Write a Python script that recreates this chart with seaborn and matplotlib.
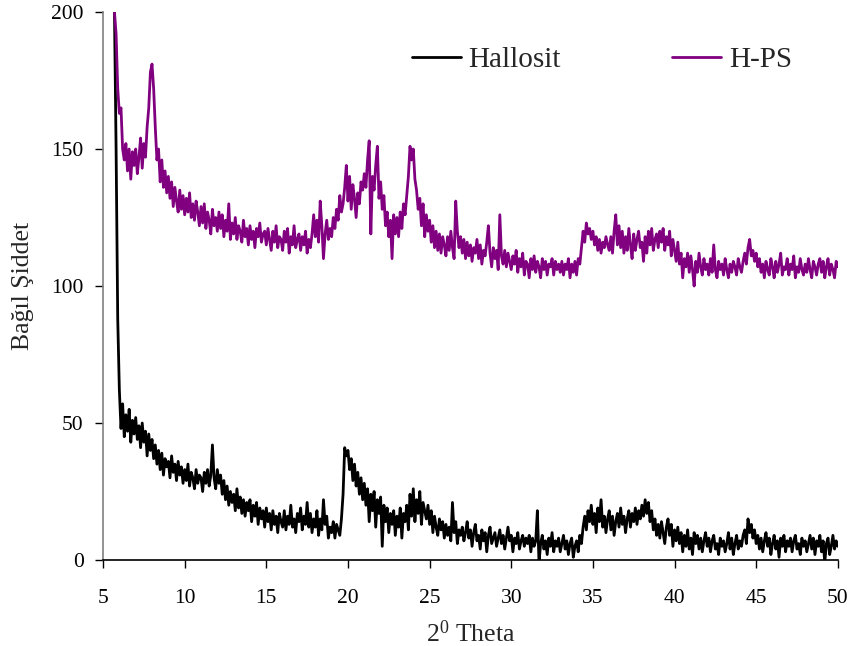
import numpy as np
import pandas as pd
import matplotlib
matplotlib.use("Agg")
import matplotlib.pyplot as plt
import seaborn as sns

# 2-theta grid, 0.1 degree steps from 5.7 to 50.0
theta = np.round(np.arange(57, 501) / 10.0, 1)

# Halloysite pattern (relative intensity)
hallosit = [
    200, 150, 88,
    62, 48, 57, 45, 53, 47, 55, 43, 51, 46,
    52, 44, 49, 41, 50, 43, 47, 38, 46, 40,
    44, 37, 42, 35, 40, 33, 39, 31, 37, 34,
    36, 30, 38, 32, 35, 29, 36, 31, 34, 28,
    33, 29, 35, 27, 32, 30, 26, 33, 28, 31,
    30, 25, 32, 28, 33, 27, 31, 42, 30, 26,
    33, 28, 31, 24, 29, 22, 27, 20, 25, 21,
    24, 18, 26, 19, 23, 17, 22, 16, 21, 18,
    22, 14, 20, 16, 21, 13, 19, 15, 18, 12,
    19, 14, 17, 11, 18, 13, 16, 10, 17, 14,
    12, 18, 11, 16, 13, 20, 12, 15, 10, 17,
    14, 19, 11, 16, 13, 21, 12, 17, 10, 15,
    12, 18, 9, 15, 11, 22, 13, 16, 8, 12,
    10, 14, 8, 13, 11, 9, 15, 24, 41, 38,
    40, 33, 37, 29, 35, 27, 32, 24, 30, 22,
    28, 20, 26, 14, 24, 18, 25, 12, 22, 17,
    23, 5, 20, 14, 19, 10, 17, 13, 18, 9,
    16, 12, 19, 8, 17, 14, 20, 11, 24, 16,
    26, 14, 22, 17, 25, 13, 21, 18, 15, 20,
    13, 18, 10, 16, 12, 9, 15, 11, 14, 8,
    13, 9, 12, 7, 21, 10, 14, 6, 11, 9,
    12, 7, 10, 14, 8, 11, 5, 10, 13, 7,
    9, 4, 11, 7, 10, 3, 9, 12, 6, 8,
    10, 5, 8, 11, 6, 9, 4, 8, 12, 7,
    9, 3, 8, 6, 10, 4, 7, 9, 5, 8,
    6, 9, 3, 8, 5, 7, 18, -1, 6, 9,
    4, 7, 2, 8, 5, 10, 3, 7, 5, 8,
    3, 6, 9, 4, 7, 2, 6, 8, 1, 5,
    7, 3, 9, 6, 12, 16, 11, 18, 14, 20,
    13, 17, 10, 19, 14, 22, 12, 16, 10, 15,
    18, 11, 16, 9, 14, 17, 12, 19, 13, 16,
    10, 15, 18, 12, 17, 14, 19, 13, 18, 15,
    20, 16, 22, 17, 21, 14, 18, 11, 15, 9,
    13, 8, 14, 10, 6, 12, 15, 9, 13, 5,
    11, 7, 12, 6, 10, 3, 9, 5, 11, 4,
    8, 2, 10, 6, 9, 4, 8, 3, 7, 10,
    5, 8, 3, 7, 9, 4, 6, 2, 8, 5,
    7, 3, 6, 10, 4, 8, 2, 6, 9, 4,
    7, 5, 9, 11, 6, 15, 10, 13, 8, 11,
    6, 9, 4, 8, 3, 7, 10, 5, 8, 2,
    6, 9, 4, 7, 1, 8, 5, 9, 3, 7,
    5, 8, 3, 7, 9, 4, 6, 2, 8, 5,
    7, 3, 6, 9, 4, 8, 2, 7, 5, 9,
    3, 7, -1, 6, 8, 2, 5, 9, 4, 7,
    5,
]

# Halloysite-polystyrene pattern (relative intensity)
h_ps = [
    200, 192, 172,
    163, 165, 150, 146, 152, 142, 150, 139, 149, 144,
    150, 141, 147, 154, 143, 152, 147, 158, 165, 178,
    181, 172, 158, 146, 150, 138, 146, 136, 142, 134,
    140, 132, 138, 129, 136, 131, 127, 135, 128, 133,
    126, 132, 127, 134, 125, 130, 124, 131, 127, 122,
    129, 123, 130, 121, 127, 124, 119, 128, 122, 125,
    120, 127, 121, 126, 118, 124, 120, 130, 117, 123,
    119, 125, 117, 122, 120, 116, 124, 118, 121, 115,
    122, 117, 120, 114, 121, 118, 123, 116, 119, 120,
    115, 121, 117, 113, 120, 116, 122, 114, 118, 117,
    113, 120, 116, 121, 112, 118, 115, 122, 114, 117,
    119, 113, 118, 115, 120, 112, 117, 114, 119, 126,
    118, 124, 116, 131, 122, 110, 119, 124, 117, 121,
    118, 125, 121, 128, 124, 133, 127, 130, 136, 144,
    131, 140, 128, 137, 132, 125, 134, 130, 138, 135,
    141, 136, 146, 153, 119, 140, 135, 144, 151, 132,
    138, 128, 133, 122, 127, 118, 124, 110, 126, 119,
    125, 118, 127, 121, 130, 126, 133, 140, 151, 146,
    150, 139, 135, 128, 132, 122, 130, 118, 126, 120,
    124, 116, 122, 114, 120, 113, 119, 112, 118, 115,
    111, 118, 113, 120, 114, 110, 131, 120, 114, 118,
    112, 117, 110, 116, 111, 115, 109, 114, 112, 117,
    110, 115, 108, 113, 111, 116, 122, 112, 107, 114,
    110, 113, 106, 126, 111, 108, 113, 107, 112, 109,
    106, 111, 108, 113, 105, 110, 107, 112, 104, 109,
    108, 103, 110, 106, 111, 105, 109, 107, 103, 110,
    106, 109, 104, 108, 107, 110, 104, 109, 106, 108,
    105, 109, 104, 108, 106, 110, 103, 108, 105, 109,
    104, 110, 108, 114, 120, 116, 123, 119, 121, 117,
    120, 115, 118, 113, 117, 112, 116, 114, 118, 115,
    113, 118, 112, 120, 126, 115, 122, 114, 120, 112,
    118, 113, 121, 115, 110, 119, 113, 117, 120, 114,
    116, 109, 118, 112, 120, 115, 121, 113, 117, 119,
    114, 120, 116, 121, 113, 118, 115, 120, 111, 117,
    113, 109, 116, 108, 112, 103, 110, 107, 112, 105,
    111, 106, 100, 109, 105, 112, 107, 104, 110, 106,
    108, 104, 110, 105, 115, 106, 103, 109, 106, 108,
    104, 110, 106, 103, 108, 105, 109, 107, 104, 110,
    107, 105, 109, 112, 108, 114, 117, 111, 113, 109,
    112, 107, 110, 105, 108, 103, 109, 106, 104, 110,
    107, 103, 109, 105, 108, 112, 104, 107, 106, 110,
    104, 108, 106, 111, 103, 107, 105, 110, 106, 104,
    108, 105, 110, 106, 103, 109, 107, 104, 108, 110,
    105, 109, 103, 107, 110, 104, 108, 106, 103, 109,
    107,
]

series_names = ["Hallosit", "H-PS"]
series_colors = ["#000000", "#800080"]
x_ticks = [5, 10, 15, 20, 25, 30, 35, 40, 45, 50]
y_ticks = [0, 50, 100, 150, 200]

df = pd.concat([
    pd.DataFrame({"theta": theta, "intensity": hallosit, "sample": series_names[0]}),
    pd.DataFrame({"theta": theta, "intensity": h_ps, "sample": series_names[1]}),
], ignore_index=True)

sns.set_style("white")
plt.rcParams["font.family"] = ["Liberation Serif", "DejaVu Serif"]
plt.rcParams["mathtext.fontset"] = "custom"
plt.rcParams["mathtext.rm"] = "Liberation Serif"
plt.rcParams["mathtext.it"] = "Liberation Serif:italic"

fig = plt.figure(figsize=(8.48, 6.46), dpi=100)
ax = fig.add_axes([0.1215, 0.1331, 0.8665, 0.8483])

sns.lineplot(
    data=df, x="theta", y="intensity", hue="sample",
    palette=dict(zip(series_names, series_colors)),
    estimator=None, sort=False, linewidth=2.0, ax=ax,
)

ax.set_xlim(5, 50)
ax.set_ylim(0, 200)
ax.set_xticks(x_ticks)
ax.set_yticks(y_ticks)
ax.tick_params(axis="both", direction="out", length=6, width=1,
               labelsize=15.5, colors="black", bottom=True, left=True)
ax.tick_params(axis="x", pad=15)
ax.tick_params(axis="y", pad=8)

for side in ("top", "right"):
    ax.spines[side].set_visible(False)
ax.spines["bottom"].set_color("black")
ax.spines["bottom"].set_linewidth(1.2)
ax.spines["left"].set_color("#808080")
ax.spines["left"].set_linewidth(1.2)

ax.set_xlabel(r"2$^{\mathrm{0}}$ Theta", fontsize=18.5, labelpad=9)
ax.set_ylabel("Bağıl Şiddet", fontsize=18.5, labelpad=12)

leg = ax.legend(
    title=None, loc="upper right", bbox_to_anchor=(0.973, 0.984),
    ncol=2, frameon=False, fontsize=21, handlelength=1.7,
    handletextpad=0.25, columnspacing=3.8,
)
for line in leg.get_lines():
    line.set_linewidth(2.0)

fig.savefig("out.png", dpi=100)
